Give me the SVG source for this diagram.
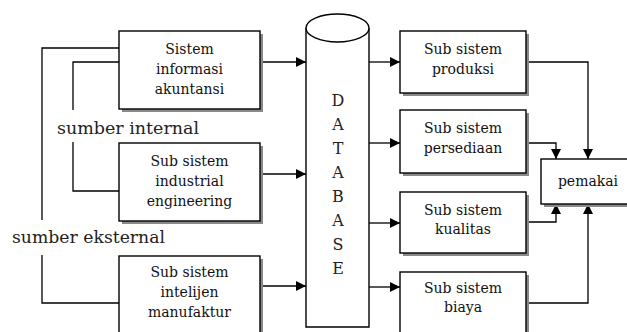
<svg xmlns="http://www.w3.org/2000/svg" width="627" height="332" viewBox="0 0 627 332">
  <style>
    .box { fill: #fff; stroke: #000; stroke-width: 1.4; }
    .shadow { fill: #8a8a8a; }
    .lbl { font-family: 'DejaVu Serif', 'Liberation Serif', serif; font-size: 14px; fill: #111; text-anchor: middle; }
    .db { font-family: 'DejaVu Serif', 'Liberation Serif', serif; font-size: 16px; fill: #222; text-anchor: middle; }
    .src { font-family: 'DejaVu Serif', serif; font-size: 17px; fill: #222; }
    .wire { fill: none; stroke: #000; stroke-width: 1.3; }
    .arrow { fill: none; stroke: #000; stroke-width: 1.3; marker-end: url(#head); }
  </style>
  <defs>
    <marker id="head" viewBox="0 0 10 10" refX="10" refY="5" markerWidth="10" markerHeight="10" markerUnits="userSpaceOnUse" orient="auto">
      <path d="M0,0 L10,5 L0,10 z" fill="#000"/>
    </marker>
  </defs>
  <rect width="627" height="332" fill="#fff"/>

  <!-- connectors -->
  <g id="connectors">
    <!-- internal source lines -->
    <polyline class="wire" points="119,62 73,62 73,110"/>
    <polyline class="wire" points="73,142 73,191 119,191"/>
    <!-- external source lines -->
    <polyline class="wire" points="119,48 42,48 42,220"/>
    <polyline class="wire" points="42,255 42,303 119,303"/>
    <!-- subsystems into database -->
    <line class="arrow" x1="260" y1="62" x2="306" y2="62"/>
    <line class="arrow" x1="260" y1="174" x2="306" y2="174"/>
    <line class="arrow" x1="260" y1="286" x2="306" y2="286"/>
    <!-- database out to subsystems -->
    <line class="arrow" x1="369" y1="62" x2="400" y2="62"/>
    <line class="arrow" x1="369" y1="143" x2="400" y2="143"/>
    <line class="arrow" x1="369" y1="223" x2="400" y2="223"/>
    <line class="arrow" x1="369" y1="287" x2="400" y2="287"/>
    <!-- subsystems to user -->
    <polyline class="arrow" points="526,62 588,62 588,159"/>
    <polyline class="arrow" points="526,143 556,143 556,159"/>
    <polyline class="arrow" points="526,222 556,222 556,204"/>
    <polyline class="arrow" points="526,303 588,303 588,204"/>
  </g>

  <!-- source labels -->
  <text class="src" x="57" y="134" textLength="142" lengthAdjust="spacingAndGlyphs">sumber internal</text>
  <text class="src" x="12" y="243" textLength="153" lengthAdjust="spacingAndGlyphs">sumber eksternal</text>

  <g id="sia">
    <rect class="shadow" x="122" y="34" width="141" height="78"/>
    <rect class="box" x="119" y="31" width="141" height="78"/>
    <text class="lbl" x="189.5" y="54">Sistem</text>
    <text class="lbl" x="189.5" y="74">informasi</text>
    <text class="lbl" x="189.5" y="94">akuntansi</text>
  </g>

  <g id="industrial">
    <rect class="shadow" x="122" y="146" width="141" height="78"/>
    <rect class="box" x="119" y="143" width="141" height="78"/>
    <text class="lbl" x="189.5" y="166">Sub sistem</text>
    <text class="lbl" x="189.5" y="186">industrial</text>
    <text class="lbl" x="189.5" y="206">engineering</text>
  </g>

  <g id="intelijen">
    <rect class="shadow" x="122" y="259" width="141" height="80"/>
    <rect class="box" x="119" y="256" width="141" height="80"/>
    <text class="lbl" x="189.5" y="277">Sub sistem</text>
    <text class="lbl" x="189.5" y="297">intelijen</text>
    <text class="lbl" x="189.5" y="317">manufaktur</text>
  </g>

  <g id="database">
    <path class="box" d="M306,28 L306,327 L369,327 L369,28"/>
    <ellipse class="box" cx="337.5" cy="28" rx="31.5" ry="14"/>
    <text class="db" x="338" y="106">D</text>
    <text class="db" x="338" y="130">A</text>
    <text class="db" x="338" y="154">T</text>
    <text class="db" x="338" y="178">A</text>
    <text class="db" x="338" y="202">B</text>
    <text class="db" x="338" y="226">A</text>
    <text class="db" x="338" y="250">S</text>
    <text class="db" x="338" y="274">E</text>
  </g>

  <g id="produksi">
    <rect class="shadow" x="403" y="34" width="126" height="62"/>
    <rect class="box" x="400" y="31" width="126" height="62"/>
    <text class="lbl" x="463" y="54">Sub sistem</text>
    <text class="lbl" x="463" y="74">produksi</text>
  </g>

  <g id="persediaan">
    <rect class="shadow" x="403" y="113" width="126" height="63"/>
    <rect class="box" x="400" y="110" width="126" height="63"/>
    <text class="lbl" x="463" y="133">Sub sistem</text>
    <text class="lbl" x="463" y="153">persediaan</text>
  </g>

  <g id="kualitas">
    <rect class="shadow" x="403" y="195" width="126" height="61"/>
    <rect class="box" x="400" y="192" width="126" height="61"/>
    <text class="lbl" x="463" y="215">Sub sistem</text>
    <text class="lbl" x="463" y="234">kualitas</text>
  </g>

  <g id="biaya">
    <rect class="shadow" x="403" y="275" width="126" height="64"/>
    <rect class="box" x="400" y="272" width="126" height="64"/>
    <text class="lbl" x="463" y="293">Sub sistem</text>
    <text class="lbl" x="463" y="312">biaya</text>
  </g>

  <g id="pemakai">
    <rect class="shadow" x="544" y="162" width="100" height="45"/>
    <rect class="box" x="541" y="159" width="100" height="45"/>
    <text class="lbl" x="588" y="186">pemakai</text>
  </g>
</svg>
